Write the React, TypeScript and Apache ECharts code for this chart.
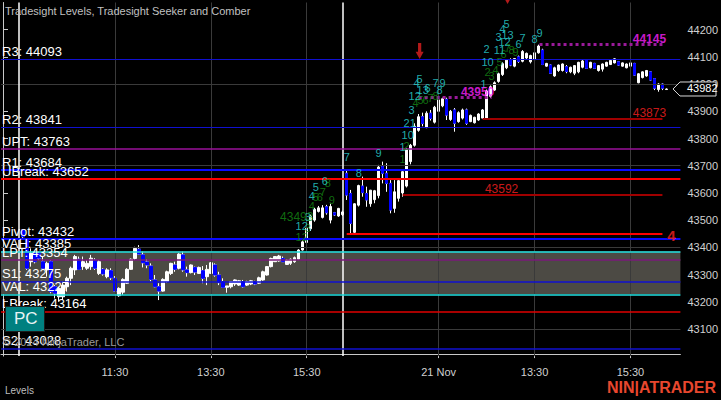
import { useEffect, useRef } from 'react';
import * as echarts from 'echarts';

// ---- axis / layout data ----
const SLOTS = 170;
const tickIdx = [28, 52, 76, 109, 133, 157];
const tickText = ['11:30', '13:30', '15:30', '21 Nov', '13:30', '15:30'];
const sessionBreakIdx = [4, 85];
const gridValues = [44000, 43700, 43400, 43100];

// ---- level lines ----
const levelNames = ['R3', 'R2', 'UPT', 'R1', 'UBreak', 'Pivot', 'VAH', 'LPT', 'S1', 'VAL', 'LBreak', 'S2'];
const levelValues = [44093, 43841, 43763, 43684, 43652, 43432, 43385, 43354, 43275, 43227, 43164, 43028];
const levelColors = ['#1010d0', '#1010d0', '#9a109a', '#0a0aff', '#ff0000', '#0a0aff', '#22e0e0', '#7a1a7a', '#1010d0', '#22e0e0', '#e00000', '#1010d0'];
const levelWidths = [1, 1, 1.5, 2, 2, 2, 1.5, 1.5, 1.5, 1.5, 1.5, 1.5];
const valueArea = [43385, 43227];

// ---- candles: [open, close, low, high], index = bar slot ----
const bars: (number[] | null)[] = [
  null, null, null, null, null,
  [43464, 43439, 43433, 43466], [43427, 43323, 43317, 43430], [43347, 43378, 43329, 43396], [43378, 43347, 43341, 43384],
  [43378, 43360, 43353, 43384], [43347, 43323, 43317, 43366], [43317, 43341, 43292, 43347], [43347, 43237, 43231, 43353],
  [43255, 43231, 43212, 43261], [43218, 43249, 43200, 43255], [43218, 43261, 43206, 43274], [43255, 43286, 43237, 43292],
  [43286, 43323, 43261, 43329], [43317, 43366, 43298, 43372], [43356, 43319, 43317, 43366], [43329, 43347, 43317, 43366],
  [43323, 43341, 43317, 43353], [43329, 43360, 43317, 43372], [43353, 43323, 43317, 43360], [43304, 43347, 43298, 43353],
  [43319, 43302, 43296, 43323], [43292, 43317, 43286, 43323], [43314, 43288, 43280, 43323], [43286, 43239, 43237, 43294],
  [43222, 43249, 43218, 43253], [43235, 43282, 43225, 43286], [43268, 43319, 43266, 43323], [43319, 43356, 43317, 43359],
  [43359, 43396, 43353, 43402], [43393, 43375, 43372, 43408], [43372, 43343, 43326, 43384], [43346, 43335, 43323, 43356],
  [43331, 43282, 43274, 43341], [43280, 43255, 43253, 43298], [43255, 43239, 43206, 43268], [43239, 43282, 43237, 43286],
  [43274, 43310, 43270, 43314], [43304, 43341, 43298, 43343], [43335, 43319, 43310, 43347], [43323, 43375, 43319, 43378],
  [43372, 43317, 43310, 43384], [43317, 43307, 43292, 43329], [43307, 43335, 43304, 43337], [43326, 43309, 43298, 43329],
  [43304, 43326, 43302, 43329], [43314, 43286, 43268, 43331], [43292, 43319, 43261, 43335], [43304, 43343, 43302, 43346],
  [43335, 43298, 43292, 43341], [43298, 43270, 43261, 43310], [43274, 43253, 43253, 43286], [43253, 43258, 43233, 43258],
  [43255, 43274, 43249, 43274], [43265, 43280, 43258, 43282], [43261, 43277, 43258, 43280], [43274, 43255, 43252, 43280],
  [43261, 43274, 43258, 43277], [43265, 43277, 43261, 43280], [43274, 43265, 43261, 43277], [43268, 43288, 43265, 43292],
  [43280, 43310, 43277, 43314], [43298, 43329, 43296, 43331], [43329, 43359, 43326, 43362], [43347, 43366, 43346, 43368],
  [43350, 43368, 43347, 43372], [43359, 43347, 43346, 43366], [43337, 43353, 43335, 43356], [43341, 43356, 43335, 43359],
  [43347, 43362, 43343, 43366], [43356, 43390, 43353, 43393], [43390, 43420, 43388, 43425], [43418, 43470, 43415, 43478],
  [43468, 43515, 43460, 43520], [43500, 43540, 43494, 43545], [43532, 43545, 43528, 43552], [43510, 43545, 43506, 43555],
  [43549, 43527, 43520, 43556], [43500, 43550, 43488, 43560], [43527, 43519, 43515, 43530], [43515, 43543, 43512, 43545],
  [43520, 43530, 43515, 43535], [43672, 43592, 43574, 43687], [43598, 43488, 43449, 43611], [43455, 43560, 43449, 43562],
  [43555, 43627, 43550, 43630], [43625, 43601, 43586, 43660], [43598, 43574, 43549, 43623], [43560, 43610, 43549, 43611],
  [43575, 43608, 43562, 43611], [43590, 43695, 43580, 43703], [43697, 43672, 43635, 43715], [43672, 43635, 43604, 43709],
  [43635, 43537, 43525, 43647], [43543, 43604, 43527, 43647], [43580, 43645, 43568, 43650], [43600, 43678, 43586, 43684],
  [43625, 43760, 43620, 43765], [43715, 43775, 43705, 43780], [43775, 43845, 43770, 43856], [43830, 43880, 43825, 43890],
  [43880, 43855, 43845, 43895], [43840, 43893, 43838, 43900], [43893, 43874, 43866, 43905], [43860, 43915, 43855, 43920],
  [43900, 43942, 43895, 43945], [43920, 43946, 43915, 43950], [43944, 43886, 43868, 43950], [43870, 43900, 43865, 43905],
  [43905, 43856, 43825, 43912], [43862, 43895, 43858, 43900], [43875, 43905, 43870, 43910], [43905, 43856, 43850, 43910],
  [43862, 43885, 43860, 43888], [43858, 43878, 43855, 43880], [43868, 43890, 43865, 43893], [43875, 43905, 43872, 43908],
  [43875, 43975, 43870, 43980], [43955, 43990, 43950, 43995], [43978, 44005, 43975, 44010], [44010, 44038, 44005, 44042],
  [44035, 44075, 44030, 44080], [44060, 44088, 44055, 44092], [44089, 44070, 44066, 44095], [44066, 44094, 44062, 44096],
  [44100, 44083, 44078, 44105], [44084, 44120, 44080, 44125], [44096, 44113, 44092, 44116], [44082, 44105, 44076, 44108],
  [44090, 44115, 44083, 44120], [44115, 44140, 44112, 44145], [44125, 44072, 44070, 44130], [44066, 44076, 44064, 44078],
  [44070, 44040, 44038, 44072], [44030, 44060, 44027, 44064], [44050, 44070, 44045, 44072], [44050, 44074, 44046, 44076],
  [44064, 44046, 44040, 44070], [44045, 44062, 44040, 44064], [44040, 44068, 44033, 44070], [44045, 44080, 44040, 44082],
  [44062, 44085, 44058, 44089], [44089, 44058, 44056, 44092], [44060, 44080, 44058, 44082], [44076, 44058, 44056, 44078],
  [44050, 44068, 44046, 44070], [44055, 44074, 44046, 44076], [44066, 44080, 44064, 44082], [44072, 44087, 44070, 44089],
  [44078, 44093, 44076, 44095], [44082, 44070, 44068, 44085], [44066, 44078, 44064, 44080], [44060, 44074, 44058, 44076],
  [44066, 44078, 44064, 44080], [44076, 44033, 44030, 44078], [44005, 44038, 44003, 44040], [44024, 44045, 44021, 44047],
  [44030, 44050, 44027, 44052], [44045, 44015, 44013, 44047], [44020, 43985, 43978, 44021], [43980, 44000, 43972, 44003],
  [44000, 43985, 43978, 44003], [43980, 43982, 43979, 43984],
];

// ---- partial lines: [fromSlot, toSlot, value] ----
const redLine = [86, 165, 43448];
const darkRedLines = [[100, 165, 43592], [120, 165, 43873]];
const magentaLines = [[134.25, 165, 44145], [104, 122.25, 43950]];
const greenLine = [-0.75, 74.5, 43493];
// labels of partial lines: [slot, value, text]
const redLabels: [number, number, string][] = [[124.75, 43614, '43592'], [161.75, 43894, '43873']];
const magentaLabels: [number, number, string][] = [[161.75, 44166, '44145'], [118.75, 43971, '43950']];
const greenLabels: [number, number, string][] = [[73.5, 43511, '43493']];
const redEndLabel: [number, number, string][] = [[167.25, 43442, '4']];

// ---- sequence counts [slot, value, text] ----
const tdCyan: [number, number, string][] = [
  [74.75, 43478, '12'], [76.25, 43512, '3'], [77.25, 43589, '4'], [78.25, 43622, '5'], [80.5, 43644, '6'],
  [86, 43732, '7'], [89, 43673, '8'], [94, 43747, '9'],
  [100, 43769, '1'], [101.25, 43813, '10'], [101.75, 43857, '21'], [102.25, 43905, '3'], [103, 43956, '12'],
  [103.5, 44004, '4'], [104.25, 44019, '5'], [105, 43978, '13'], [106.25, 43986, '6'], [108.25, 44004, '7'],
  [109.25, 43978, '8'], [110, 44004, '9'],
  [120.25, 44000, '1'], [121.25, 44081, '10'], [121, 44129, '2'], [124.25, 44125, '11'], [124, 44173, '3'],
  [125.5, 44155, '12'], [125, 44203, '4'], [126.25, 44181, '13'], [126, 44221, '5'], [129, 44147, '6'],
  [130, 44170, '7'], [133, 44166, '8'], [134.25, 44188, '9'],
];
const tdGreen: [number, number, string][] = [
  [74.75, 43438, '12'], [76.25, 43471, '3'], [77.25, 43552, '4'], [78.25, 43585, '5'], [79.25, 43585, '6'],
  [80, 43603, '7'], [81.25, 43637, '8'], [82.25, 43574, '9'],
  [100, 43725, '1'], [101, 43772, '2'], [103.25, 43931, '4'], [104.5, 43942, '5'], [105.75, 43942, '6'],
  [107, 43949, '7'], [108.25, 43956, '8'],
  [121.25, 44045, '2'], [122.25, 44030, '3'], [123.25, 44052, '4'], [124.25, 44081, '5'], [125.25, 44111, '6'],
  [126.25, 44133, '7'], [127.25, 44125, '8'], [128.25, 44118, '9'],
];
const arrows: [number, number][] = [[104.25, 44122], [126.25, 44324]];

const FONT = 'Liberation Sans, Arial, sans-serif';

export default function App() {
  const ref = useRef<HTMLDivElement>(null);
  useEffect(() => {
    const chart = echarts.init(ref.current!, null, { renderer: 'svg' });
    const categories = Array.from({ length: SLOTS }, (_, i) => String(i));
    const candleData = categories.map((_, i) => {
      const b = bars[i];
      return b ? [b[0], b[1], b[2], b[3]] : '-';
    });
    const downData = categories.map((_, i) => {
      const b = bars[i];
      return b && b[1] < b[0] ? [b[0], b[1], b[1], b[0]] : '-';
    });
    const seg = (s: number[], color: string, width: number, type: string) => [
      { coord: [s[0], s[2]], lineStyle: { color, width, type } },
      { coord: [s[1], s[2]] },
    ];
    const textSeries = (data: [number, number, string][], color: string, size: number, weight: string, z: number) => ({
      type: 'scatter',
      xAxisIndex: 1,
      yAxisIndex: 0,
      z,
      silent: true,
      symbolSize: 1,
      itemStyle: { color: 'rgba(0,0,0,0)' },
      data: data.map((d) => [d[0], d[1], d[2]]),
      label: {
        show: true,
        position: 'inside',
        formatter: (p: any) => p.value[2],
        color,
        fontSize: size,
        fontWeight: weight,
        fontFamily: FONT,
      },
    });

    const option: any = {
      animation: false,
      backgroundColor: '#000000',
      textStyle: { fontFamily: FONT },
      grid: { left: 1, right: 40, top: 2.5, bottom: 43.9, containLabel: false },
      xAxis: [
        {
          type: 'category',
          data: categories,
          boundaryGap: true,
          offset: -2,
          axisLine: { show: true, lineStyle: { color: '#c8c8c8', width: 1 } },
          axisTick: {
            show: true,
            alignWithLabel: true,
            length: 4,
            interval: (i: number) => tickIdx.includes(i),
            lineStyle: { color: '#c8c8c8' },
          },
          axisLabel: {
            show: true,
            interval: (i: number) => tickIdx.includes(i),
            formatter: (_v: string, i: number) => {
              const k = tickIdx.indexOf(i);
              return k >= 0 ? tickText[k] : '';
            },
            color: '#d0d0d0',
            fontSize: 11,
            margin: 12,
          },
          splitLine: { show: false },
        },
        { type: 'value', min: -0.5, max: SLOTS - 0.5, show: false },
      ],
      yAxis: {
        type: 'value',
        position: 'right',
        min: 43000,
        max: 44300,
        interval: 100,
        offset: -2,
        axisLine: { show: true, lineStyle: { color: '#c8c8c8', width: 1 } },
        axisTick: { show: true, length: 5, lineStyle: { color: '#c8c8c8' } },
        axisLabel: {
          color: '#d0d0d0',
          fontSize: 11,
          margin: 9,
          showMinLabel: false,
          showMaxLabel: false,
          formatter: (v: number) => String(Math.round(v)),
        },
        splitLine: { show: false },
      },
      series: [
        {
          type: 'line',
          xAxisIndex: 1,
          data: [],
          z: 0,
          silent: true,
          markArea: {
            silent: true,
            itemStyle: { color: '#4c4a44' },
            data: [[{ yAxis: valueArea[0] }, { yAxis: valueArea[1] }]],
          },
        },
        {
          type: 'line',
          xAxisIndex: 1,
          data: [],
          z: 1,
          silent: true,
          markLine: {
            silent: true,
            symbol: ['none', 'none'],
            data: [
              ...gridValues.map((v) => ({ yAxis: v, lineStyle: { color: '#3a3a3a', width: 1, type: 'solid' }, label: { show: false } })),
              ...tickIdx.map((i) => ({ xAxis: i, lineStyle: { color: '#3a3a3a', width: 1, type: 'solid' }, label: { show: false } })),
              ...sessionBreakIdx.map((i) => ({ xAxis: i, lineStyle: { color: '#ffffff', width: 1.5, type: 'solid' }, label: { show: false } })),
              ...levelValues.map((v, k) => ({
                yAxis: v,
                lineStyle: { color: levelColors[k], width: levelWidths[k], type: 'solid' },
                label: {
                  show: true,
                  position: 'insideStartTop',
                  distance: [1, 1],
                  formatter: `${levelNames[k]}: ${v}`,
                  color: '#ffffff',
                  fontSize: 13,
                  fontFamily: FONT,
                },
              })),
              seg(redLine, '#ff0000', 2, 'solid'),
              ...darkRedLines.map((s) => seg(s, '#a00000', 2, 'solid')),
              ...magentaLines.map((s) => seg(s, '#9a1a9a', 3, 'dotted')),
              seg(greenLine, '#0c5a0c', 2, 'dotted'),
            ],
          },
        },
        {
          type: 'candlestick',
          name: 'bars',
          z: 3,
          silent: true,
          barWidth: 3,
          data: candleData,
          itemStyle: { color: '#ffffff', color0: '#ffffff', borderColor: '#ffffff', borderColor0: '#ffffff', borderWidth: 1 },
        },
        {
          type: 'candlestick',
          name: 'down',
          z: 4,
          silent: true,
          barWidth: 3,
          data: downData,
          itemStyle: { color: '#0000ff', color0: '#0000ff', borderColor: '#0000ff', borderColor0: '#0000ff', borderWidth: 1 },
        },
        textSeries(tdGreen, '#158a15', 11, 'normal', 5),
        textSeries(tdCyan, '#2ad8d8', 11, 'normal', 6),
        textSeries(greenLabels, '#158a15', 12, 'normal', 6),
        textSeries(redLabels, '#ff2020', 12, 'normal', 6),
        textSeries(magentaLabels, '#ff20ff', 12, 'bold', 6),
        textSeries(redEndLabel, '#ff2020', 15, 'bold', 6),
        {
          type: 'scatter',
          xAxisIndex: 1,
          yAxisIndex: 0,
          z: 7,
          silent: true,
          clip: false,
          symbol: 'path://M3,0 L7,0 L7,10 L10,10 L5,18 L0,10 L3,10 Z',
          symbolSize: [8, 16],
          itemStyle: { color: '#e02020' },
          data: arrows,
        },
      ],
      graphic: [
        { type: 'text', id: 'title', left: 5, top: 5, z: 10, style: { text: 'Tradesight Levels, Tradesight Seeker and Comber', fill: '#c0c0c0', font: `11px ${FONT}` } },
        { type: 'rect', id: 'pcbox', left: 5, top: 306, z: 10, shape: { width: 39, height: 25 }, style: { fill: '#008080', stroke: '#1c1c1c', lineWidth: 1 } },
        { type: 'text', id: 'pctext', left: 14, top: 310, z: 11, style: { text: 'PC', fill: '#e8f4f4', font: `17px ${FONT}` } },
        { type: 'text', id: 'copy', left: 3, top: 336, z: 9, style: { text: '© 2024 NinjaTrader, LLC', fill: '#9a9a9a', font: `11px ${FONT}` } },
        { type: 'text', id: 'lv', left: 5, top: 385, z: 10, style: { text: 'Levels', fill: '#bdbdbd', font: `10px ${FONT}` } },
        { type: 'text', id: 'logo', left: 607, top: 379, z: 10, style: { text: 'NIN|ATRADER', fill: '#e8472e', font: `bold 16px ${FONT}` } },
      ],
    };
    chart.setOption(option);

    const last = bars[bars.length - 1] as number[];
    const py = chart.convertToPixel({ yAxisIndex: 0 }, last[1]) as number;
    chart.setOption({
      graphic: [
        {
          type: 'polygon',
          id: 'tag',
          z: 12,
          shape: { points: [[673, py], [680, py - 7], [716, py - 7], [716, py + 7], [680, py + 7]] },
          style: { fill: '#000000', stroke: '#d8d8d8', lineWidth: 1 },
        },
        {
          type: 'text',
          id: 'tagtext',
          z: 13,
          x: 687,
          y: py - 6,
          style: { text: String(last[1]), fill: '#ffffff', font: `11px ${FONT}` },
        },
      ],
    });
    return () => chart.dispose();
  }, []);
  return <div ref={ref} style={{ position: 'fixed', left: 0, top: 0, width: 721, height: 400, background: '#000' }} />;
}
